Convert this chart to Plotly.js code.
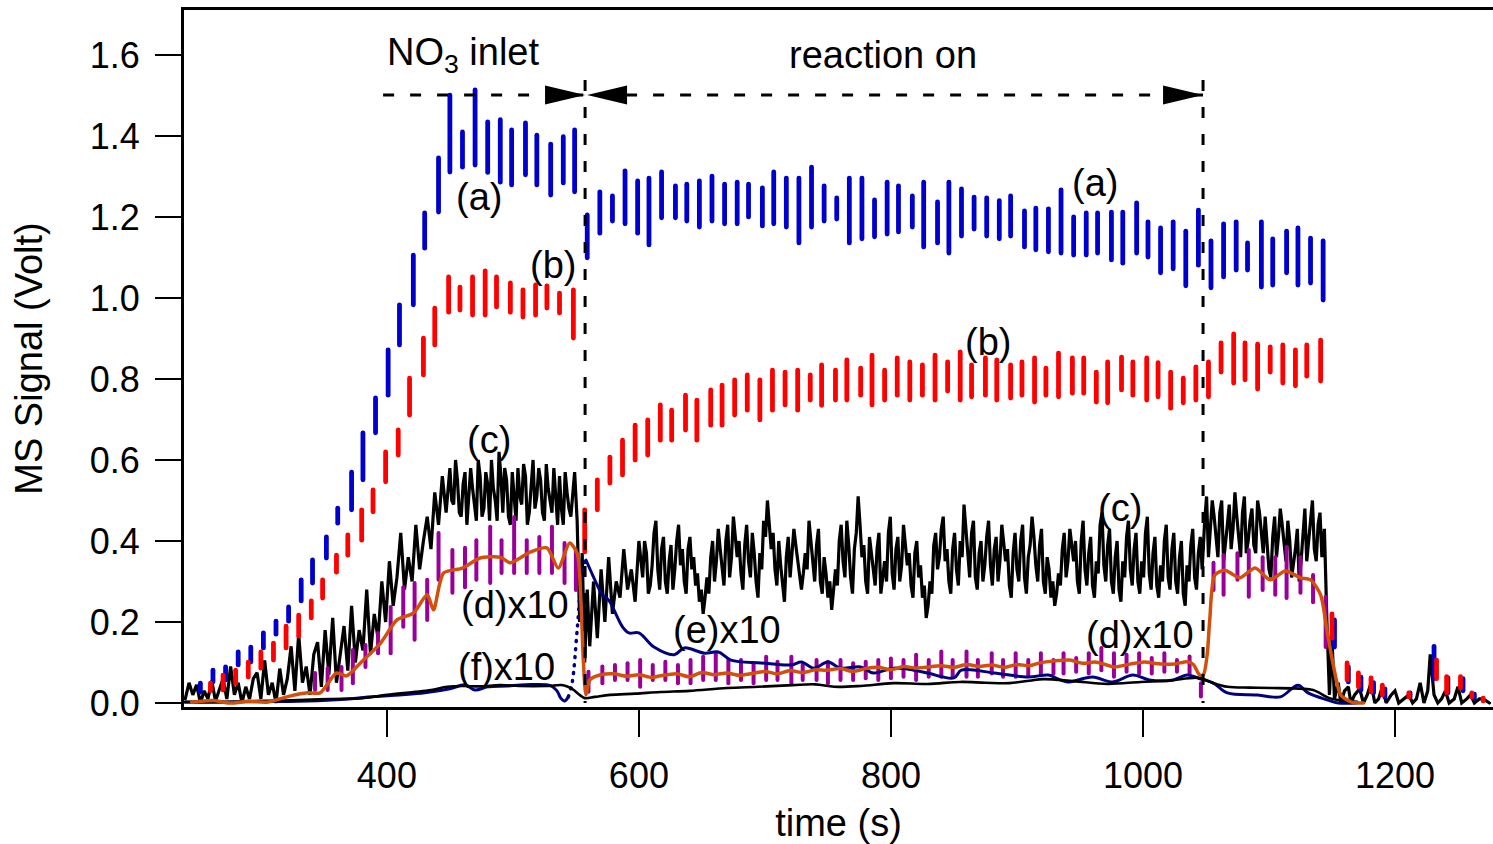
<!DOCTYPE html>
<html><head><meta charset="utf-8">
<script src="https://cdn.plot.ly/plotly-3.0.1.min.js"></script>
<style>html,body{margin:0;padding:0;background:#fff;} #chart{width:1493px;height:844px;} .js-line{stroke-linecap:round;}</style>
</head><body><div id="chart"></div>
<script>
// ---------- (a) blue: oscillating signal, one vertical dash per cycle ----------
const aTime = [252,262,272,282,292,302,312,322,332,341,352,361,372,381,391,401,410,421,430,441,450,460,470,480,490,499,510,519,530,540,549,
  559,569,579,589,599,608,618,629,638,648,658,668,678,687,698,707,717,727,737,747,757,767,777,787,797,806,817,826,837,846,
  856,866,876,886,895,906,915,925,935,945,955,964,975,984,995,1004,1014,1024,1034,1044,1054,1064,1074,1083,1094,1103,1114,1123,1133,1143,
  1152,1163,1173,1183,1192,1212,1231,1242,1254,1263];
const aLow = [0.027,0.052,0.057,0.094,0.101,0.136,0.170,0.202,0.252,0.296,0.358,0.444,0.477,0.551,0.667,0.760,0.884,0.983,1.123,1.212,1.311,1.323,1.328,1.310,1.286,1.279,1.304,1.279,1.254,1.284,1.262,
  1.099,1.160,1.190,1.183,1.160,1.131,1.198,1.198,1.190,1.175,1.190,1.183,1.183,1.200,1.178,1.183,1.175,1.136,1.175,1.190,
  1.195,1.136,1.146,1.151,1.158,1.163,1.175,1.126,1.136,1.111,1.153,1.170,1.153,1.146,1.153,1.126,1.119,1.114,1.111,1.106,
  1.106,1.111,1.094,1.086,1.111,1.101,1.062,1.072,1.030,1.081,1.025,1.052,1.069,1.069,1.027,1.032,1.062,1.032,1.037,0.995,
  0.138,0.052,0.032,0.025,0.015,0.015,0.060,0.025,0.030,0.012];
const aHigh = [0.049,0.081,0.089,0.126,0.138,0.173,0.202,0.237,0.304,0.353,0.410,0.481,0.570,0.667,0.753,0.872,0.983,1.106,1.210,1.346,1.501,1.410,1.514,1.435,1.440,1.415,1.432,1.402,1.380,1.398,1.415,
  1.205,1.262,1.252,1.314,1.289,1.296,1.311,1.277,1.281,1.289,1.301,1.281,1.286,1.281,1.272,1.311,1.296,1.296,1.323,1.277,
  1.247,1.296,1.296,1.242,1.286,1.277,1.252,1.286,1.237,1.286,1.269,1.249,1.247,1.240,1.252,1.215,1.222,1.220,1.267,1.200,
  1.210,1.210,1.212,1.212,1.235,1.188,1.173,1.188,1.165,1.217,1.141,1.183,1.188,1.136,1.188,1.146,1.165,1.173,1.148,1.141,
  0.205,0.089,0.064,0.050,0.035,0.025,0.140,0.062,0.060,0.022];

// ---------- (b) red ----------
const bTime = [260,270,280,290,300,310,320,330,340,349,360,369,380,389,399,409,418,429,438,449,458,468,478,487,498,508,518,527,537,548,
  557,567,577,587,597,607,617,626,637,646,657,666,676,686,696,706,716,726,736,745,756,765,776,785,795,805,815,825,835,845,
  855,864,875,884,895,904,914,923,933,944,953,963,972,983,992,1003,1012,1022,1032,1042,1052,1062,1072,1081,1091,1101,1111,1121,1130,1141,
  1150,1162,1171,1181,1190,1211,1233,1241,1252,1261,1270];
const bLow = [0.030,0.032,0.049,0.064,0.086,0.106,0.136,0.165,0.210,0.259,0.323,0.365,0.402,0.472,0.546,0.612,0.711,0.810,0.884,0.965,0.970,0.958,0.958,0.978,0.965,0.953,0.958,0.975,0.963,0.901,
  0.373,0.477,0.543,0.563,0.600,0.612,0.649,0.649,0.674,0.649,0.686,0.686,0.711,0.723,0.699,0.723,0.736,0.723,0.748,0.735,
  0.748,0.748,0.760,0.736,0.748,0.760,0.748,0.760,0.748,0.770,0.748,0.756,0.760,0.748,0.753,0.760,0.743,0.760,0.756,0.765,
  0.765,0.743,0.741,0.773,0.760,0.748,0.756,0.728,0.741,0.748,0.756,0.817,0.790,0.798,0.775,0.817,0.790,0.783,0.807,0.795,
  0.160,0.057,0.040,0.027,0.020,0.015,0.060,0.025,0.037,0.015,0.005];
const bHigh = [0.049,0.069,0.081,0.101,0.126,0.148,0.190,0.217,0.252,0.304,0.365,0.415,0.477,0.526,0.620,0.674,0.802,0.901,0.975,1.052,1.027,1.052,1.067,1.052,1.037,1.020,1.032,1.030,1.012,1.020,
  0.477,0.551,0.607,0.649,0.686,0.699,0.736,0.723,0.760,0.748,0.773,0.785,0.798,0.810,0.798,0.822,0.817,0.822,0.810,0.835,
  0.822,0.847,0.827,0.859,0.822,0.852,0.842,0.835,0.859,0.842,0.867,0.835,0.852,0.847,0.835,0.842,0.852,0.827,0.864,0.852,
  0.852,0.817,0.842,0.854,0.842,0.852,0.840,0.817,0.802,0.830,0.842,0.889,0.911,0.889,0.886,0.879,0.884,0.872,0.884,0.896,
  0.220,0.099,0.074,0.062,0.044,0.025,0.106,0.065,0.065,0.025,0.012];

// ---------- (c) black, noisy (main samples) ----------
const cTime = [240,243,246,249,252,255,258,261,264,267,270,273,276,279,282,285,288,291,294,297,300,
  303,306,309,312,315,318,321,324,327,330,333,336,339,342,345,348,351,354,357,360,363,366,369,372,375,378,381,384,387,390,393,396,399,
  402,405,408,411,414,417,420,423,426,429,432,435,438,441,444,447,
  450,453,456,459,462,465,468,471,474,477,480,483,486,489,492,495,498,501,504,507,510,513,516,519,522,525,528,531,534,537,540,543,546,549,551,
  553,555,557,559,561,564,567,570,573,576,579,582,585,588,591,594,597,600,
  603,606,609,612,615,618,621,624,627,630,633,636,639,642,645,648,651,654,657,660,663,666,669,672,675,678,681,684,687,690,
  693,696,699,702,705,708,711,714,717,720,723,726,729,732,735,738,741,744,747,750,753,756,759,762,765,768,771,774,777,780,
  783,786,789,792,795,798,801,804,807,810,813,816,819,822,825,828,831,834,837,840,843,846,849,852,855,858,861,864,867,870,
  873,876,879,882,885,888,891,894,897,900,903,906,909,912,915,918,921,924,927,930,933,936,939,942,945,948,951,954,957,960,
  963,966,969,972,975,978,981,984,987,990,993,996,999,1002,1005,1008,1011,1014,1017,1020,1023,1026,1029,1032,1035,1038,1041,1044,1047,
  1049,1052,1055,1058,1061,1064,1067,1070,1073,1076,1079,1082,1085,1088,1091,1094,1097,1100,1103,1106,1109,1112,1115,1118,1121,1124,1127,1130,1133,1136,1139,1142,1144,1146,1148,
  1150,1152,1155,1157,1160,1163,1165,1168,1172,1175,1178,1181,1184,1187,1190,1193,1197,1200,1203,1207,1211,1214,1217,1220,1223,1226,1228,1231,1234,1237,1240,1243,1247,1250,1253,1257,1260,1263,1267,1270,1275];
const cValue = [0.01,0.05,0.02,0.045,0.0,0.03,0.01,0.055,0.005,0.03,0.06,0.01,0.09,0.02,0.05,0.0,0.04,0.01,0.06,0.075,0.01,
  0.105,0.02,0.05,0.0,0.085,0.02,0.06,0.14,0.03,0.17,0.05,0.09,0.02,0.12,0.15,0.04,0.18,0.07,0.21,0.05,0.12,0.19,0.08,0.24,0.1,0.18,0.13,0.28,0.12,0.22,0.16,0.3,0.2,
  0.35,0.24,0.31,0.42,0.28,0.36,0.3,0.44,0.33,0.4,0.46,0.38,0.52,0.44,0.56,0.47,
  0.58,0.49,0.55,0.46,0.57,0.5,0.53,0.45,0.56,0.48,0.54,0.6,0.5,0.62,0.47,0.55,0.44,0.52,0.58,0.49,0.56,0.47,0.6,0.51,0.55,0.45,0.53,0.47,0.5,0.56,0.44,0.52,0.46,0.57,0.45,
  0.2,0.37,0.1,0.28,0.14,0.3,0.16,0.33,0.2,0.36,0.22,0.3,0.26,0.38,0.28,0.33,0.25,0.4,
  0.31,0.37,0.29,0.42,0.33,0.38,0.3,0.35,0.28,0.4,0.34,0.3,0.38,0.33,0.29,0.25,0.22,0.31,0.36,0.3,0.43,0.34,0.4,0.31,0.46,0.36,0.32,0.39,0.35,0.42,
  0.3,0.37,0.45,0.5,0.38,0.33,0.4,0.29,0.36,0.31,0.43,0.35,0.28,0.37,0.45,0.34,0.39,0.3,0.36,0.26,0.23,0.33,0.4,0.35,0.45,0.31,0.38,0.51,0.36,0.3,
  0.41,0.33,0.38,0.27,0.35,0.42,0.32,0.38,0.3,0.44,0.34,0.29,0.37,0.31,0.26,0.21,0.3,0.39,0.33,0.43,0.35,0.3,0.38,0.33,0.4,0.49,0.36,0.42,0.31,0.37,
  0.3,0.41,0.34,0.38,0.3,0.44,0.35,0.29,0.37,0.33,0.4,0.31,0.36,0.46,0.34,0.39,0.3,0.36,0.26,0.24,0.32,0.38,0.31,0.43,0.35,0.3,0.4,0.33,0.37,0.29,
  0.35,0.44,0.34,0.39,0.3,0.36,0.28,0.35,0.41,0.33,0.38,0.3,0.35,0.42,0.32,0.37,0.29,0.34,0.4,0.31,0.38,0.3,0.36,0.27,0.34,0.39,0.31,0.37,0.33,
  0.45,0.36,0.5,0.4,0.47,0.35,0.44,0.38,0.52,0.41,0.47,0.37,0.45,0.39,0.5,0.42,0.46,0.33,0.41,0.36,0.48,0.4,0.45,0.31,0.38,0.3,0.42,0.35,0.47,0.38,0.44,0.36,0.43,0.2,0.02,
  0.16,0.01,0.05,0.0,0.03,0.04,0.0,0.02,0.035,0.0,0.02,0.05,0.0,0.01,0.04,0.0,0.02,0.03,0.0,0.01,0.02,0.0,0.01,0.05,0.0,0.03,0.12,0.02,0.0,0.01,0.03,0.0,0.01,0.04,0.0,0.01,0.02,0.0,0.01,0.01,0.0];
// (c) extra samples read between the main ones on the plateaus
const cTimeMid = [451.5,454.5,457.5,460.5,463.5,466.5,469.5,472.5,475.5,478.5,481.5,484.5,487.5,490.5,493.5,496.5,499.5,502.5,505.5,508.5,511.5,514.5,517.5,520.5,523.5,526.5,529.5,532.5,535.5,538.5,541.5,544.5,547.5,
  604.5,607.5,610.5,613.5,616.5,619.5,622.5,625.5,628.5,631.5,
  634.5,637.5,640.5,643.5,646.5,649.5,652.5,655.5,658.5,661.5,
  664.5,667.5,670.5,673.5,676.5,679.5,682.5,685.5,688.5,691.5,
  694.5,697.5,700.5,703.5,706.5,709.5,712.5,715.5,718.5,721.5,
  724.5,727.5,730.5,733.5,736.5,739.5,742.5,745.5,748.5,751.5,
  754.5,757.5,760.5,763.5,766.5,769.5,772.5,775.5,778.5,781.5,
  784.5,787.5,790.5,793.5,796.5,799.5,802.5,805.5,808.5,811.5,
  814.5,817.5,820.5,823.5,826.5,829.5,832.5,835.5,838.5,841.5,
  844.5,847.5,850.5,853.5,856.5,859.5,862.5,865.5,868.5,871.5,
  874.5,877.5,880.5,883.5,886.5,889.5,892.5,895.5,898.5,901.5,
  904.5,907.5,910.5,913.5,916.5,919.5,922.5,925.5,928.5,931.5,
  934.5,937.5,940.5,943.5,946.5,949.5,952.5,955.5,958.5,961.5,
  964.5,967.5,970.5,973.5,976.5,979.5,982.5,985.5,988.5,991.5,
  994.5,997.5,1000.5,1003.5,1006.5,1009.5,1012.5,1015.5,1018.5,1021.5,
  1024.5,1027.5,1030.5,1033.5,1036.5,1039.5,1042.5,1045.5,
  1050.5,1053.5,1056.5,1059.5,1062.5,1065.5,1068.5,1071.5,1074.5,1077.5,
  1080.5,1083.5,1086.5,1089.5,1092.5,1095.5,1098.5,1101.5,1104.5,1107.5,
  1110.5,1113.5,1116.5,1119.5,1122.5,1125.5,1128.5,1131.5,1134.5,1137.5,1140.5];
const cValueMid = [0.5,0.6,0.47,0.54,0.44,0.58,0.49,0.6,0.46,0.57,0.45,0.53,0.45,0.56,0.58,0.46,0.57,0.45,0.51,0.59,0.44,0.55,0.48,0.58,0.47,0.59,0.5,0.58,0.44,0.48,0.57,0.48,0.52,
  0.4,0.27,0.34,0.45,0.28,0.41,0.27,0.39,0.33,0.44,
  0.38,0.27,0.41,0.36,0.32,0.28,0.26,0.27,0.4,0.35,
  0.38,0.29,0.44,0.36,0.41,0.4,0.28,0.44,0.31,0.37,
  0.26,0.33,0.41,0.44,0.42,0.29,0.34,0.25,0.41,0.37,
  0.39,0.31,0.32,0.33,0.4,0.3,0.43,0.27,0.32,0.3,
  0.28,0.29,0.44,0.31,0.39,0.27,0.42,0.44,0.39,0.27,
  0.37,0.29,0.42,0.31,0.3,0.46,0.28,0.41,0.34,0.39,
  0.37,0.26,0.4,0.34,0.29,0.24,0.27,0.42,0.36,0.46,
  0.38,0.27,0.42,0.29,0.36,0.43,0.31,0.45,0.28,0.4,
  0.34,0.45,0.29,0.41,0.35,0.4,0.38,0.26,0.42,0.3,
  0.44,0.27,0.39,0.41,0.3,0.43,0.27,0.33,0.3,0.27,
  0.29,0.42,0.35,0.39,0.4,0.27,0.45,0.29,0.41,0.26,
  0.32,0.47,0.3,0.43,0.27,0.4,0.25,0.31,0.45,0.29,
  0.42,0.27,0.31,0.46,0.28,0.41,0.26,0.3,0.44,0.28,
  0.42,0.27,0.4,0.24,0.3,0.43,0.28,0.41,
  0.51,0.42,0.46,0.36,0.5,0.39,0.49,0.43,0.46,0.36,
  0.51,0.4,0.48,0.37,0.47,0.37,0.4,0.31,0.46,0.41,
  0.44,0.35,0.4,0.34,0.43,0.35,0.48,0.4,0.5,0.35,0.47];

// ---------- (d) x10 raw (purple dashes) and smoothed (orange) ----------
const dTime = [343,353,364,373,383,393,403,413,422,432,441,452,462,471,482,491,501,511,521,531,541,550,
  560,571,581,591,601,611,621,631,641,651,661,671,681,691,701,710,721,730,741,750,760,770,780,790,800,810,820,830,840,849,860,869,880,889,899,909,919,929,
  937,947,957,967,977,987,997,1007,1017,1027,1037,1046,
  1056,1064,1075,1084,1095,1105,1114,1125,1135,1145];
const dLow = [0.032,0.032,0.032,0.049,0.089,0.123,0.123,0.188,0.156,0.205,0.304,0.272,0.286,0.304,0.296,0.321,0.321,0.321,0.321,0.321,0.296,0.279,
  0.028,0.049,0.057,0.057,0.040,0.057,0.057,0.049,0.049,0.057,0.057,0.049,0.057,0.049,0.057,0.057,0.049,0.057,0.057,0.049,0.057,0.057,0.061,0.057,0.061,0.065,0.057,0.065,0.065,0.065,0.065,0.065,0.073,0.065,0.065,0.069,0.069,0.073,
  0.073,0.077,0.073,0.081,0.065,0.077,0.073,0.073,0.077,0.077,0.073,0.016,
  0.279,0.267,0.304,0.262,0.279,0.267,0.259,0.272,0.249,0.138];
const dHigh = [0.074,0.086,0.089,0.131,0.143,0.173,0.237,0.286,0.296,0.304,0.420,0.378,0.383,0.402,0.435,0.402,0.459,0.402,0.410,0.435,0.395,0.378,
  0.077,0.090,0.094,0.098,0.106,0.094,0.102,0.094,0.106,0.114,0.123,0.106,0.106,0.098,0.114,0.102,0.114,0.094,0.106,0.102,0.106,0.098,0.102,0.106,0.110,0.106,0.119,0.106,0.127,0.106,0.127,0.106,0.123,0.106,0.123,0.106,0.123,0.106,
  0.123,0.111,0.123,0.136,0.123,0.119,0.123,0.111,0.123,0.106,0.115,0.049,
  0.346,0.365,0.370,0.378,0.360,0.360,0.385,0.360,0.316,0.262];
const dSmoothTime = [245,262,275,290,305,323,337,347,360,368,379,395,408,421,432,437,445,460,474,490,498,514,527,536,545,551,554,556,558,561,
  569,580,590,600,610,617,630,640,650,660,670,680,690,700,710,720,730,740,749,760,770,780,790,800,810,820,829,840,850,860,
  870,880,890,900,910,918,930,942,952,962,970,977,990,1001,1012,1025,1035,1040,1045,1048,1051,1053,1057,1065,1071,1077,1089,1101,1113,1125,
  1133,1141,1146,1151,1157,1165,1175];
const dSmooth = [0.002,0.006,0.0,0.004,0.002,0.017,0.025,0.025,0.074,0.067,0.099,0.148,0.205,0.222,0.267,0.230,0.321,0.333,0.358,0.360,0.346,0.373,0.383,0.333,0.395,0.370,0.25,0.10,0.02,0.057,
  0.069,0.072,0.066,0.070,0.063,0.067,0.072,0.065,0.075,0.070,0.074,0.068,0.073,0.078,0.072,0.080,0.075,0.082,0.081,0.085,0.078,0.085,0.088,0.082,0.090,0.086,0.089,0.092,0.088,0.095,
  0.090,0.094,0.088,0.095,0.092,0.099,0.104,0.106,0.098,0.101,0.095,0.089,0.096,0.101,0.097,0.096,0.102,0.095,0.069,0.07,0.12,0.205,0.316,0.328,0.318,0.309,0.333,0.304,0.326,0.309,
  0.304,0.267,0.180,0.094,0.020,0.003,0.0];

// ---------- (e) x10 navy ----------
const eTimeBefore = [240,270,300,330,360,390,410,430,450,462,470,480,495,510,530,535,538,541,544];
const eValueBefore = [0.002,0.002,0.004,0.004,0.008,0.016,0.02,0.025,0.035,0.045,0.032,0.04,0.042,0.045,0.043,0.03,0.012,0.005,0.015];
const eTimeGap = [544,547,551,555,558];
const eValueGap = [0.015,0.049,0.18,0.32,0.353];
const eTimeAfter = [558,564,571,576,587,592,600,612,628,636,652,663,673,697,721,729,739,750,760,776,786,802,818,829,850,856,882,909,925,933,
  940,960,976,992,1005,1024,1035,1046,1056,1067,1091,1109,1123,1131,1147,1155,1170];
const eValueAfter = [0.353,0.311,0.267,0.254,0.188,0.173,0.173,0.138,0.119,0.136,0.123,0.126,0.106,0.099,0.094,0.101,0.086,0.101,0.086,0.089,0.074,0.086,0.081,0.074,0.062,0.081,0.074,0.064,0.069,0.059,
  0.052,0.064,0.052,0.069,0.057,0.057,0.069,0.059,0.049,0.025,0.020,0.015,0.044,0.025,0.007,0.0,0.0];

// ---------- (f) x10 thin black ----------
const fTime = [240,270,300,330,355,381,400,421,435,448,460,474,490,505,527,540,547,553,557,565,577,597,617,640,670,695,722,740,755,776,
  802,829,855,875,894,910,921,945,972,998,1020,1045,1055,1067,1085,1103,1120,1135,1148,1156,1170];
const fValue = [0.003,0.003,0.005,0.007,0.01,0.012,0.02,0.027,0.032,0.04,0.042,0.041,0.044,0.042,0.042,0.044,0.035,0.02,0.012,0.015,0.02,0.023,0.027,0.03,0.037,0.04,0.044,0.046,0.04,0.042,
  0.049,0.047,0.052,0.05,0.049,0.055,0.059,0.054,0.047,0.052,0.055,0.062,0.05,0.040,0.038,0.037,0.036,0.032,0.012,0.007,0.003];

// ---------- ticks, labels, markers of the experiment phases ----------
const xTickVals = [400,600,800,1000,1200];
const yTickVals = [0,0.2,0.4,0.6,0.8,1.0,1.2,1.4,1.6];
const yTickText = ['0.0','0.2','0.4','0.6','0.8','1.0','1.2','1.4','1.6'];
const phaseTimes = [557.3, 1047.7];   // NO3 inlet ends / reaction on ends
const phaseStart = 397;
const phaseArrowY = 1.501;
const phaseLineTop = 1.538;
const labelText = ['NO<sub>3</sub> inlet','reaction on','(a)','(b)','(a)','(b)','(c)','(c)','(d)x10','(e)x10','(f)x10','(d)x10'];
const labelX = [461,794,473,532,962,877,481,982,502,670,495,998];
const labelY = [1.6,1.6,1.249,1.081,1.284,0.891,0.649,0.481,0.242,0.180,0.089,0.168];

function dashes(t, lo, hi) {
  const x = [], y = [];
  for (let i = 0; i < t.length; i++) { x.push(t[i], t[i], null); y.push(lo[i], hi[i], null); }
  return {x, y};
}
// merge the two sets of (c) samples in time order
const cPairs = cTime.map((t, i) => [t, cValue[i]]).concat(cTimeMid.map((t, i) => [t, cValueMid[i]]))
  .sort((p, q) => p[0] - q[0]);
const cX = cPairs.map(p => p[0]), cY = cPairs.map(p => p[1]);

const A = dashes(aTime, aLow, aHigh), B = dashes(bTime, bLow, bHigh), D = dashes(dTime, dLow, dHigh);
const traces = [
  {x: cX, y: cY, mode: 'lines', line: {color: '#000000', width: 3.2}},
  {x: D.x, y: D.y, mode: 'lines', line: {color: '#990099', width: 4}},
  {x: eTimeBefore, y: eValueBefore, mode: 'lines', line: {color: '#000080', width: 3, shape: 'spline'}},
  {x: eTimeGap, y: eValueGap, mode: 'lines', line: {color: '#000080', width: 3.5, dash: '1px,7px', shape: 'spline'}},
  {x: eTimeAfter, y: eValueAfter, mode: 'lines', line: {color: '#000080', width: 3, shape: 'spline'}},
  {x: fTime, y: fValue, mode: 'lines', line: {color: '#000000', width: 2.6, shape: 'spline'}},
  {x: dSmoothTime, y: dSmooth, mode: 'lines', line: {color: '#D2500A', width: 3.5, shape: 'spline', smoothing: 0.7}},
  {x: A.x, y: A.y, mode: 'lines', line: {color: '#0000CC', width: 4.8}},
  {x: B.x, y: B.y, mode: 'lines', line: {color: '#FF0000', width: 4.8}}
];

const dashLine = {color: '#000', width: 3, dash: '11px,16px'};
const shapes = [
  {type: 'line', xref: 'x', yref: 'y', x0: phaseStart, x1: phaseTimes[1], y0: phaseArrowY, y1: phaseArrowY, line: dashLine},
  {type: 'line', xref: 'x', yref: 'y', x0: phaseTimes[0], x1: phaseTimes[0], y0: phaseLineTop, y1: 0, line: dashLine},
  {type: 'line', xref: 'x', yref: 'y', x0: phaseTimes[1], x1: phaseTimes[1], y0: phaseLineTop, y1: 0, line: dashLine},
  {type: 'path', xref: 'x', yref: 'y', xsizemode: 'pixel', ysizemode: 'pixel', xanchor: phaseTimes[0], yanchor: phaseArrowY,
   path: 'M0,0 L-40,9.5 L-40,-9.5 Z', fillcolor: '#000', line: {width: 0}},
  {type: 'path', xref: 'x', yref: 'y', xsizemode: 'pixel', ysizemode: 'pixel', xanchor: phaseTimes[0], yanchor: phaseArrowY,
   path: 'M2,0 L42,9.5 L42,-9.5 Z', fillcolor: '#000', line: {width: 0}},
  {type: 'path', xref: 'x', yref: 'y', xsizemode: 'pixel', ysizemode: 'pixel', xanchor: phaseTimes[1], yanchor: phaseArrowY,
   path: 'M0,0 L-40,9.5 L-40,-9.5 Z', fillcolor: '#000', line: {width: 0}}
];

const annotations = labelText.map((t, i) => ({
  x: labelX[i], y: labelY[i], xref: 'x', yref: 'y', text: t, showarrow: false,
  xanchor: 'center', yanchor: 'middle', font: {size: 38, color: '#000'}
}));

const font = 'Liberation Sans, Arial, Helvetica, sans-serif';
const layout = {
  width: 1493, height: 844,
  margin: {l: 184, r: 0, t: 10, b: 137},
  paper_bgcolor: '#fff', plot_bgcolor: '#fff',
  showlegend: false,
  font: {family: font, color: '#000', size: 36},
  xaxis: {
    range: [239, 1277.8], tickvals: xTickVals, ticks: 'outside', ticklen: 27, tickwidth: 2.5, tickcolor: '#000',
    showline: true, linewidth: 3, linecolor: '#000', mirror: true, showgrid: false, zeroline: false,
    tickfont: {size: 36}, ticklabelstandoff: 8,
    title: {text: 'time (s)', font: {size: 38}, standoff: 17}
  },
  yaxis: {
    range: [-0.0099, 1.711], tickvals: yTickVals, ticktext: yTickText, ticks: 'outside', ticklen: 26, tickwidth: 2.5, tickcolor: '#000',
    showline: true, linewidth: 3, linecolor: '#000', showgrid: false, zeroline: false,
    tickfont: {size: 36}, ticklabelstandoff: 8,
    title: {text: 'MS Signal (Volt)', font: {size: 38}, standoff: 36}
  },
  shapes: shapes,
  annotations: annotations
};

Plotly.newPlot('chart', traces, layout, {displayModeBar: false, staticPlot: true});
</script></body></html>
